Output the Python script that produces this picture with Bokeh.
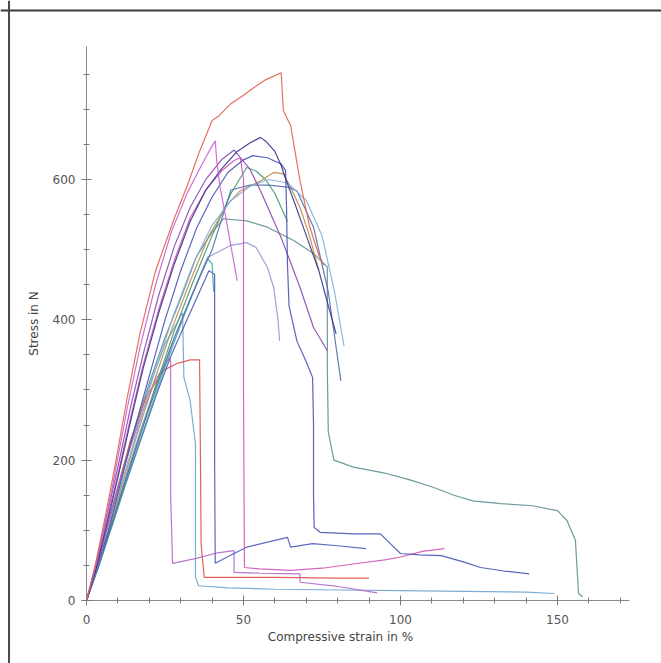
from bokeh.plotting import figure
from bokeh.models import Range1d, FixedTicker, Span, LinearAxis
from bokeh.embed import file_html
from bokeh.resources import INLINE

# ---- axis ticks ----
x_major_ticks = [0, 50, 100, 150]
x_minor_ticks = [0, 10, 20, 30, 40, 50, 60, 70, 80, 90, 100, 110, 120, 130, 140, 150, 160, 170]
y_major_ticks = [0, 200, 400, 600]
y_minor_ticks = [0, 50, 100, 150, 200, 250, 300, 350, 400, 450, 500, 550, 600, 650, 700, 750]

# ---- specimen curves (strain in %, stress in N) ----
red_top_x = [0, 3, 6, 9, 13, 17, 22, 28, 32, 36, 40, 42, 46, 50, 53, 57, 62, 62.7, 65, 68, 71, 74, 75.5]
red_top_y = [0, 55, 120, 190, 290, 380, 470, 545, 590, 640, 684, 690, 708, 720, 730, 742, 752, 698, 677, 598, 534, 492, 478]

magenta_x = [0, 3, 6, 9, 13, 17, 22, 27, 32, 36, 39, 41, 41.5, 42.5, 44, 46, 48]
magenta_y = [0, 50, 110, 180, 275, 360, 450, 525, 580, 615, 640, 655, 625, 590, 555, 505, 456]

navy_x = [0, 3, 6, 10, 14, 18, 23, 28, 33, 38, 43, 48, 52, 55.4, 57, 60, 62, 63.5, 66, 70, 74, 77, 79.5]
navy_y = [0, 45, 100, 175, 255, 330, 410, 480, 540, 585, 615, 640, 652, 660, 655, 640, 620, 600, 570, 520, 470, 420, 380]

blue_x = [0, 3, 7, 11, 15, 20, 25, 30, 35, 40, 45, 50, 53, 57.6, 62, 63.4, 63.7, 64, 64.5, 67, 70, 72, 72.3, 72.3,
          72.5, 74.5, 85, 93.6, 97, 100, 106, 113, 120, 125.5, 133, 141]
blue_y = [0, 42, 100, 170, 240, 320, 400, 470, 530, 575, 610, 628, 634, 631, 622, 613, 560, 480, 420, 370, 340, 318, 250, 150,
          104, 97, 95, 95, 80, 67, 65, 64, 55, 47, 42, 38]

teal_tail_x = [0, 4, 8, 12, 16, 20, 25, 30, 35, 40, 43.6, 51, 57.6, 66, 72.4, 76.7, 76.7, 77, 78.8, 85, 94.6, 103,
               110.6, 117, 123, 132, 142, 150, 153, 155.7, 156.7, 158]
teal_tail_y = [0, 60, 130, 195, 255, 310, 375, 430, 490, 525, 544, 541, 532, 513, 494, 475, 330, 240, 200, 190, 182, 172,
               161, 150, 142, 138, 135, 128, 114, 86, 10, 5]

lavender_x = [0, 4, 8, 12, 17, 22, 28, 34, 38.5, 45.9, 51, 54, 57.6, 59.6, 61, 61.5]
lavender_y = [0, 55, 115, 170, 240, 305, 375, 440, 489, 506, 510, 503, 475, 446, 400, 370]

pink_x = [0, 3, 6, 10, 14, 18, 23, 28, 33, 38, 43, 47, 49, 50, 50, 50.3, 55, 65, 75, 85, 95, 100, 107, 114]
pink_y = [0, 48, 105, 180, 260, 335, 415, 485, 545, 585, 612, 627, 631, 600, 300, 47, 45, 43, 46, 52, 58, 62, 70, 74]

royal_x = [0, 4, 8, 12, 17, 22, 27, 32, 36, 39, 40.8, 40.8, 41, 47, 51, 64, 65, 72, 80, 89]
royal_y = [0, 52, 105, 160, 225, 290, 350, 400, 440, 470, 465, 200, 53, 67, 76, 90, 76, 81, 78, 74]

violet_x = [0, 3, 6, 10, 14, 18, 22, 26.5, 26.8, 26.8, 27.4, 35, 41.7, 47, 47, 55, 68, 68, 80, 92.6]
violet_y = [0, 45, 95, 160, 220, 270, 315, 346, 340, 150, 53, 60, 68, 71, 40, 39, 38, 26, 20, 11]

skyblue_x = [0, 4, 8, 12, 16, 20, 25, 30.6, 31, 33, 34.7, 34.7, 35.7, 45, 60, 80, 100, 120, 140, 149]
skyblue_y = [0, 60, 125, 190, 250, 305, 365, 410, 318, 285, 224, 33, 21, 18, 16, 15, 14, 13, 12, 10]

purple_x = [0, 3, 6, 10, 14, 18, 23, 28, 33, 38, 43, 47, 52, 55.4, 62, 68, 72.3, 76.7]
purple_y = [0, 50, 112, 190, 275, 350, 435, 505, 560, 600, 628, 642, 615, 584, 517, 446, 389, 356]

lightblue_x = [0, 4, 8, 12, 17, 22, 28, 34, 40, 46, 52, 58, 64, 70, 75, 79, 82]
lightblue_y = [0, 55, 118, 180, 255, 330, 410, 480, 535, 570, 590, 600, 595, 570, 520, 440, 363]

slate_x = [0, 4, 8, 12, 17, 22, 28, 34, 40, 46, 52, 58, 64, 67, 72.3, 77, 81]
slate_y = [0, 50, 108, 165, 235, 300, 375, 440, 500, 585, 592, 592, 589, 584, 532, 440, 313]

brown_x = [0, 4, 8, 12, 16, 21, 27, 33, 39, 45, 49, 55.4, 59.6, 62.7, 65, 68, 71, 74]
brown_y = [0, 55, 115, 175, 235, 305, 385, 455, 520, 565, 584, 598, 610, 608, 589, 560, 520, 470]

green_x = [0, 4, 8, 12, 17, 22, 28, 34, 40, 46, 51, 54, 57, 60, 64]
green_y = [0, 52, 110, 165, 235, 305, 385, 455, 520, 580, 617, 612, 600, 580, 540]

cyan_x = [0, 4, 8, 12, 16, 21, 26, 31, 35, 38.5, 40, 40.5]
cyan_y = [0, 50, 105, 160, 215, 280, 345, 405, 450, 487, 480, 440]

red_low_x = [0, 3, 6, 10, 14, 19, 24.5, 29, 33, 36, 36.3, 36.5, 37.5, 45, 60, 80, 90]
red_low_y = [0, 45, 95, 160, 228, 290, 328, 338, 343, 343, 200, 80, 33, 33, 33, 32, 32]

series = [
    (teal_tail_x, teal_tail_y, "#5f8f94"),
    (skyblue_x, skyblue_y, "#6fa4cf"),
    (red_low_x, red_low_y, "#e0504a"),
    (violet_x, violet_y, "#b068c8"),
    (royal_x, royal_y, "#4a58b8"),
    (cyan_x, cyan_y, "#3fa6a6"),
    (lavender_x, lavender_y, "#8f9ad8"),
    (green_x, green_y, "#3f9a70"),
    (brown_x, brown_y, "#c08a48"),
    (slate_x, slate_y, "#5470a8"),
    (lightblue_x, lightblue_y, "#7fb0dc"),
    (purple_x, purple_y, "#8a48b0"),
    (pink_x, pink_y, "#d055b8"),
    (blue_x, blue_y, "#4654b4"),
    (navy_x, navy_y, "#34348c"),
    (magenta_x, magenta_y, "#c860d0"),
    (red_top_x, red_top_y, "#e2604e"),
]

FONT = "DejaVu Sans"

p = figure(width=661, height=663, output_backend="svg", toolbar_location=None,
           x_range=Range1d(-27.39, 183.12), y_range=Range1d(-89.78, 855.07),
           min_border_left=0, min_border_right=0, min_border_top=0, min_border_bottom=0)
p.background_fill_color = "white"
p.border_fill_color = "white"
p.outline_line_color = None
p.grid.visible = False

for xs, ys, c in series:
    p.line(xs, ys, line_color=c, line_width=1.2, line_alpha=0.9)

# frame lines of the scanned page
p.add_layout(Span(location=840.8, dimension="width", line_color="#3a3a3a", line_width=2))
p.add_layout(Span(location=-24.68, dimension="height", line_color="#4a4a4a", line_width=2))

# second (invisible) bottom axis that only carries the x title, centred like the original
xtitle_axis = LinearAxis(fixed_location=0, bounds=(-4, 166),
                         ticker=FixedTicker(ticks=x_major_ticks, minor_ticks=[]),
                         axis_line_color=None, major_tick_line_color=None, minor_tick_line_color=None,
                         major_tick_in=0, major_tick_out=0, major_label_standoff=0,
                         major_label_text_alpha=0, major_label_text_font=FONT,
                         major_label_text_font_size="12px",
                         axis_label="Compressive strain in %", axis_label_standoff=29,
                         axis_label_text_font=FONT, axis_label_text_font_size="12px",
                         axis_label_text_font_style="normal", axis_label_text_color="#444444")
p.add_layout(xtitle_axis, "below")

for ax in p.xaxis:
    if ax is xtitle_axis:
        continue
    ax.fixed_location = 0
    ax.bounds = (-1.5, 173)
    ax.ticker = FixedTicker(ticks=x_major_ticks, minor_ticks=x_minor_ticks)
    ax.major_label_standoff = 9
for ax in p.yaxis:
    ax.fixed_location = 0
    ax.bounds = (0, 790)
    ax.ticker = FixedTicker(ticks=y_major_ticks, minor_ticks=y_minor_ticks)
    ax.axis_label = "Stress in N"
    ax.major_label_standoff = 6
    ax.axis_label_standoff = 9
    ax.axis_label_text_font = FONT
    ax.axis_label_text_font_size = "12px"
    ax.axis_label_text_font_style = "normal"
    ax.axis_label_text_color = "#444444"
for ax in list(p.xaxis) + list(p.yaxis):
    if ax is xtitle_axis:
        continue
    ax.axis_line_color = "#8a8a8a"
    ax.major_tick_line_color = "#7a7a7a"
    ax.minor_tick_line_color = "#7a7a7a"
    ax.major_tick_in = 5
    ax.major_tick_out = 5
    ax.minor_tick_in = 3
    ax.minor_tick_out = 3
    ax.major_label_text_font = FONT
    ax.major_label_text_font_size = "12px"
    ax.major_label_text_color = "#555555"

open("out.html", "w").write(file_html(p, INLINE))
